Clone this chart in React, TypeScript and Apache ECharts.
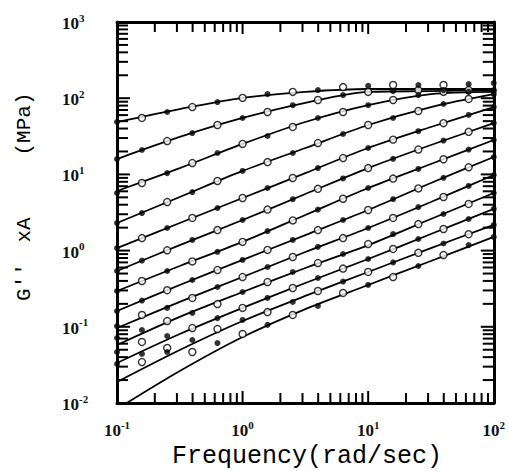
import React, { useEffect, useRef } from 'react';
import * as echarts from 'echarts';

// Frequencies (rad/sec) where the fitted curves are read
const freqFit = [0.1, 0.316, 1, 3.16, 10, 31.6, 100];
// Frequencies (rad/sec) of the measured points
const freqData = [0.1, 0.158, 0.251, 0.398, 0.631, 1, 1.58, 2.51, 3.98, 6.31, 10, 15.8, 25.1, 39.8, 63.1, 100];

// Fitted curves, G'' x A (MPa)
const fit01 = [48.7, 72, 101, 121, 132, 132, 132];
const fit02 = [15.9, 31, 55, 87, 121, 124, 128];
const fit03 = [6.06, 12.1, 25.1, 48.7, 81, 113, 121];
const fit04 = [2.3, 5.05, 11.1, 22.2, 44.5, 76.6, 113];
const fit05 = [1.08, 2.3, 4.9, 10.4, 22.2, 41.9, 76.6];
const fit06 = [0.54, 1.18, 2.52, 5.53, 12.1, 24.3, 47];
const fit07 = [0.295, 0.628, 1.3, 2.93, 6.63, 13.7, 28.3];
const fit08 = [0.161, 0.354, 0.754, 1.6, 3.41, 7.71, 16.9];
const fit09 = [0.0964, 0.212, 0.45, 0.959, 1.98, 4.34, 9.82];
const fit10 = [0.0577, 0.135, 0.286, 0.591, 1.18, 2.6, 5.7];
const fit11 = [0.0335, 0.0805, 0.177, 0.376, 0.776, 1.65, 3.52];
const fit12 = [0.0189, 0.0496, 0.119, 0.254, 0.524, 1.08, 2.17];
const fit13 = [0.00834, 0.0263, 0.0735, 0.171, 0.354, 0.731, 1.51];

// Measured points, G'' x A (MPa)
const data01 = [48.7, 55, 65.9, 76.6, 89, 101, 113, 121, 128, 140, 145, 149, 149, 149, 153, 158];
const data02 = [15.9, 20.9, 27.4, 34.9, 44.5, 55, 65.9, 81, 94.7, 110, 121, 124, 128, 128, 128, 128];
const data03 = [5.7, 7.71, 10.4, 14.1, 19.1, 25.1, 31.9, 41.9, 55, 65.9, 81, 94.7, 110, 121, 121, 124];
const data04 = [2.3, 3.11, 4.34, 5.87, 8.19, 11.1, 14.5, 19.1, 25.8, 33.9, 44.5, 55, 67.9, 83.9, 97.7, 113];
const data05 = [1.08, 1.46, 1.98, 2.68, 3.62, 4.9, 6.63, 8.97, 12.1, 16.4, 22.2, 28.6, 36.9, 47, 60.3, 76.6];
const data06 = [0.54, 0.739, 1.01, 1.38, 1.86, 2.52, 3.45, 4.73, 6.47, 8.85, 12.1, 16, 21.2, 27.8, 36.2, 47];
const data07 = [0.295, 0.399, 0.54, 0.721, 0.964, 1.3, 1.8, 2.49, 3.45, 4.79, 6.63, 8.81, 11.8, 15.8, 21.2, 28.3];
const data08 = [0.161, 0.221, 0.302, 0.411, 0.556, 0.754, 1.02, 1.38, 1.86, 2.52, 3.41, 4.73, 6.55, 9.02, 12.4, 16.9];
const data09 = [0.102, 0.143, 0.177, 0.239, 0.333, 0.45, 0.609, 0.824, 1.12, 1.46, 1.98, 2.68, 3.73, 5.05, 7.05, 9.82];
const data10 = [0.0713, 0.0908, 0.119, 0.152, 0.199, 0.286, 0.387, 0.524, 0.687, 0.902, 1.22, 1.65, 2.23, 3.02, 4.09, 5.7];
const data11 = [0.0467, 0.0632, 0.0757, 0.0964, 0.13, 0.177, 0.239, 0.323, 0.437, 0.581, 0.776, 1.05, 1.42, 1.92, 2.6, 3.52];
const data12 = [0.0325, 0.044, 0.0527, 0.0671, 0.0935, 0.123, 0.156, 0.212, 0.295, 0.392, 0.524, 0.7, 0.935, 1.24, 1.64, 2.17];
const data13 = [null, 0.0345, 0.0467, 0.0467, 0.0612, 0.0805, 0.106, 0.143, 0.188, 0.278, 0.354, 0.45, 0.628, 0.875, 1.18, 1.51];

const fits = [fit01, fit02, fit03, fit04, fit05, fit06, fit07, fit08, fit09, fit10, fit11, fit12, fit13];
const datas = [data01, data02, data03, data04, data05, data06, data07, data08, data09, data10, data11, data12, data13];

// Axis ticks
const xMajorTicks = [1, 10];
const xMinorTicks = [0.2, 0.3, 0.4, 0.5, 0.6, 0.7, 0.8, 0.9, 2, 3, 4, 5, 6, 7, 8, 9, 20, 30, 40, 50, 60, 70, 80, 90];
const yMajorTicks = [0.1, 1, 10, 100];
const yMinorTicks = [
  0.02, 0.03, 0.04, 0.05, 0.06, 0.07, 0.08, 0.09,
  0.2, 0.3, 0.4, 0.5, 0.6, 0.7, 0.8, 0.9,
  2, 3, 4, 5, 6, 7, 8, 9,
  20, 30, 40, 50, 60, 70, 80, 90,
  200, 300, 400, 500, 600, 700, 800, 900,
];

const xTitle = 'Frequency(rad/sec)';
const yTitleParts = ["G''", 'xA', '(MPa)'];

const serif = "'Liberation Serif', 'DejaVu Serif', serif";
const mono = "'Liberation Mono', 'DejaVu Sans Mono', monospace";

const expFormatter = (v: number) => {
  const e = Math.round(Math.log10(v));
  return `{b|10}{s|${e}}`;
};
const rich = {
  b: { fontSize: 17, fontFamily: serif, fontWeight: 'bold', color: '#111', verticalAlign: 'bottom', lineHeight: 20 },
  s: { fontSize: 11, fontFamily: serif, fontWeight: 'bold', color: '#111', verticalAlign: 'top', lineHeight: 10 },
};

export default function App() {
  const ref = useRef<HTMLDivElement>(null);
  useEffect(() => {
    if (!ref.current) return;
    const chart = echarts.init(ref.current, null, { renderer: 'svg' });
    const series: any[] = [];
    fits.forEach((f) => {
      series.push({
        type: 'line',
        data: freqFit.map((x, i) => [x, f[i]]),
        smooth: 0.3,
        symbol: 'none',
        silent: true,
        clip: true,
        lineStyle: { color: '#000', width: 1.8 },
        z: 2,
      });
    });
    const openPts: number[][] = [];
    const filledPts: number[][] = [];
    datas.forEach((d, k) => {
      d.forEach((v, i) => {
        if (v == null) return;
        const item = [freqData[i], v as number];
        if (i === 0 || i === freqData.length - 1 || (i + k) % 2 === 0) filledPts.push(item);
        else openPts.push(item);
      });
    });
    series.push({
      type: 'scatter',
      data: openPts,
      symbol: 'circle',
      symbolSize: 7,
      silent: true,
      itemStyle: { color: '#fff', borderColor: '#000', borderWidth: 1.4 },
      z: 3,
    });
    series.push({
      type: 'scatter',
      data: filledPts,
      symbol: 'circle',
      symbolSize: 6,
      silent: true,
      itemStyle: { color: '#000' },
      z: 4,
    });
    const tickStyle = { stroke: '#000', lineWidth: 2 };
    series.push({
      type: 'custom',
      silent: true,
      z: 5,
      data: [...xMajorTicks.map((v) => [v, 1, 1]), ...xMinorTicks.map((v) => [v, 1, 0])],
      renderItem: (params: any, api: any) => {
        const cs = params.coordSys;
        const p = api.coord([api.value(0), api.value(1)]);
        const len = api.value(2) ? 12 : 10;
        const bottom = cs.y + cs.height;
        return {
          type: 'group',
          children: [
            { type: 'line', shape: { x1: p[0], y1: bottom, x2: p[0], y2: bottom - len }, style: tickStyle },
            { type: 'line', shape: { x1: p[0], y1: cs.y, x2: p[0], y2: cs.y + len }, style: tickStyle },
          ],
        };
      },
    });
    series.push({
      type: 'custom',
      silent: true,
      z: 5,
      data: [...yMajorTicks.map((v) => [1, v, 1]), ...yMinorTicks.map((v) => [1, v, 0])],
      renderItem: (params: any, api: any) => {
        const cs = params.coordSys;
        const p = api.coord([api.value(0), api.value(1)]);
        const len = api.value(2) ? 13 : 11;
        const right = cs.x + cs.width;
        return {
          type: 'group',
          children: [
            { type: 'line', shape: { x1: cs.x, y1: p[1], x2: cs.x + len, y2: p[1] }, style: tickStyle },
            { type: 'line', shape: { x1: right, y1: p[1], x2: right - len, y2: p[1] }, style: tickStyle },
          ],
        };
      },
    });

    const axisLine = { show: true, onZero: false, lineStyle: { color: '#000', width: 3 } };
    chart.setOption({
      animation: false,
      backgroundColor: '#fff',
      grid: { left: 117, right: 11, top: 22, bottom: 68, containLabel: false },
      xAxis: [
        {
          type: 'log', logBase: 10, min: 0.1, max: 100, position: 'bottom',
          axisLine, axisTick: { show: false }, splitLine: { show: false },
          axisLabel: { formatter: expFormatter, rich, margin: 16 },
        },
        {
          type: 'log', logBase: 10, min: 0.1, max: 100, position: 'top',
          axisLine, axisTick: { show: false }, splitLine: { show: false }, axisLabel: { show: false },
        },
      ],
      yAxis: [
        {
          type: 'log', logBase: 10, min: 0.01, max: 1000, position: 'left',
          axisLine, axisTick: { show: false }, splitLine: { show: false },
          axisLabel: { formatter: expFormatter, rich, margin: 55, align: 'left' },
        },
        {
          type: 'log', logBase: 10, min: 0.01, max: 1000, position: 'right',
          axisLine, axisTick: { show: false }, splitLine: { show: false }, axisLabel: { show: false },
        },
      ],
      graphic: [
        {
          type: 'text', x: 307, y: 456,
          style: { text: xTitle, font: `25px ${mono}`, fill: '#000', textAlign: 'center', textVerticalAlign: 'middle' },
        },
        {
          type: 'text', x: 24, y: 282, rotation: Math.PI / 2,
          style: { text: yTitleParts[0], font: `21px ${mono}`, fill: '#000', textAlign: 'center', textVerticalAlign: 'middle' },
        },
        {
          type: 'text', x: 24, y: 230, rotation: Math.PI / 2,
          style: { text: yTitleParts[1], font: `21px ${mono}`, fill: '#000', textAlign: 'center', textVerticalAlign: 'middle' },
        },
        {
          type: 'text', x: 24, y: 124, rotation: Math.PI / 2,
          style: { text: yTitleParts[2], font: `21px ${mono}`, fill: '#000', textAlign: 'center', textVerticalAlign: 'middle' },
        },
      ],
      series,
    });
    return () => chart.dispose();
  }, []);
  return <div ref={ref} style={{ position: 'absolute', left: 0, top: 0, width: 508, height: 471 }} />;
}
